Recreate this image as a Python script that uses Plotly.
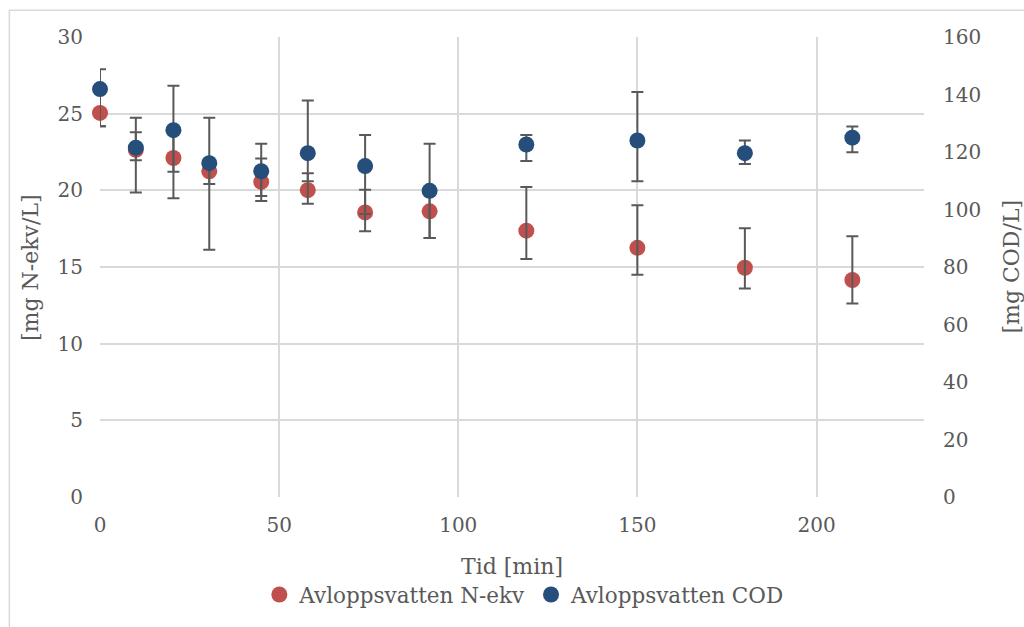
import plotly.graph_objects as go

# Data
tid = [0, 10, 20.5, 30.5, 45, 58, 74, 92, 119, 150, 180, 210]
n_ekv = [25.05, 22.64, 22.11, 21.24, 20.55, 20.01, 18.56, 18.63, 17.37, 16.25, 14.95, 14.15]
n_err_plus = [1.56, 1.15, 1.81, 0.52, 1.52, 1.10, 1.47, 1.33, 2.84, 2.77, 2.58, 2.86]
n_err_minus = [0.87, 2.78, 2.62, 5.12, 1.25, 0.89, 1.23, 1.74, 1.85, 1.75, 1.36, 1.53]
cod = [141.9, 121.5, 127.6, 116.1, 113.3, 119.6, 115.1, 106.5, 122.6, 124.0, 119.6, 125.0]
cod_err_plus = [6.9, 10.4, 15.45, 15.8, 9.6, 18.3, 10.8, 16.4, 3.3, 16.9, 4.4, 3.9]
cod_err_minus = [12.9, 4.4, 14.5, 7.2, 8.6, 9.8, 16.7, 16.4, 5.7, 14.2, 3.8, 5.1]

x_ticks = [0, 50, 100, 150, 200]

RED = "#C0504D"
BLUE = "#264E7B"
ERR = "#595959"
TXT = "#595959"
GRID = "#D9D9D9"
FONT = "DejaVu Serif"

fig = go.Figure()

fig.add_trace(go.Scatter(
    x=tid, y=n_ekv, mode="markers", name="Avloppsvatten N-ekv", cliponaxis=False,
    marker=dict(color=RED, size=16), yaxis="y"))

fig.add_trace(go.Scatter(
    x=tid, y=n_ekv, mode="markers", showlegend=False, hoverinfo="skip", cliponaxis=False,
    marker=dict(color="rgba(0,0,0,0)", size=1),
    error_y=dict(type="data", symmetric=False, array=n_err_plus, arrayminus=n_err_minus,
                 color=ERR, thickness=2, width=6),
    yaxis="y"))

fig.add_trace(go.Scatter(
    x=tid, y=cod, mode="markers", name="Avloppsvatten COD", cliponaxis=False,
    marker=dict(color=BLUE, size=16),
    error_y=dict(type="data", symmetric=False, array=cod_err_plus, arrayminus=cod_err_minus,
                 color=ERR, thickness=2, width=6),
    yaxis="y2"))

fig.update_layout(
    width=1024, height=627,
    margin=dict(l=100, r=100, t=37, b=128),
    paper_bgcolor="white", plot_bgcolor="white",
    font=dict(family=FONT, color=TXT, size=19),
    xaxis=dict(range=[0, 230], tickvals=x_ticks, showgrid=True, gridcolor=GRID, gridwidth=1.5,
               zeroline=False, showline=False, ticks="", tickfont=dict(size=20),
               ticklabelstandoff=14,
               title=dict(text="Tid [min]", font=dict(size=22), standoff=22)),
    yaxis=dict(range=[0, 30], dtick=5, showgrid=True, gridcolor=GRID, gridwidth=1.5,
               zeroline=False, showline=False, ticks="", tickfont=dict(size=20),
               ticklabelstandoff=16),
    yaxis2=dict(range=[0, 160], dtick=20, overlaying="y", side="right", showgrid=False,
                zeroline=False, showline=False, ticks="", tickfont=dict(size=20),
                ticklabelstandoff=18),
    legend=dict(orientation="h", x=0.515, xanchor="center", y=-0.212, yanchor="middle",
                font=dict(size=21.5), itemwidth=30, bgcolor="rgba(0,0,0,0)"),
    shapes=[dict(type="rect", xref="paper", yref="paper", x0=-0.11, x1=1.3, y0=-0.6, y1=1.0584,
                 line=dict(color=GRID, width=1.5), layer="below")],
    annotations=[
        dict(text="[mg N-ekv/L]", xref="paper", yref="paper", x=-0.085, y=0.5,
             xanchor="center", yanchor="middle", textangle=-90, showarrow=False,
             font=dict(size=22)),
        dict(text="[mg COD/L]", xref="paper", yref="paper", x=1.105, y=0.5,
             xanchor="center", yanchor="middle", textangle=-90, showarrow=False,
             font=dict(size=22)),
    ],
)

fig.write_html("out.html")
